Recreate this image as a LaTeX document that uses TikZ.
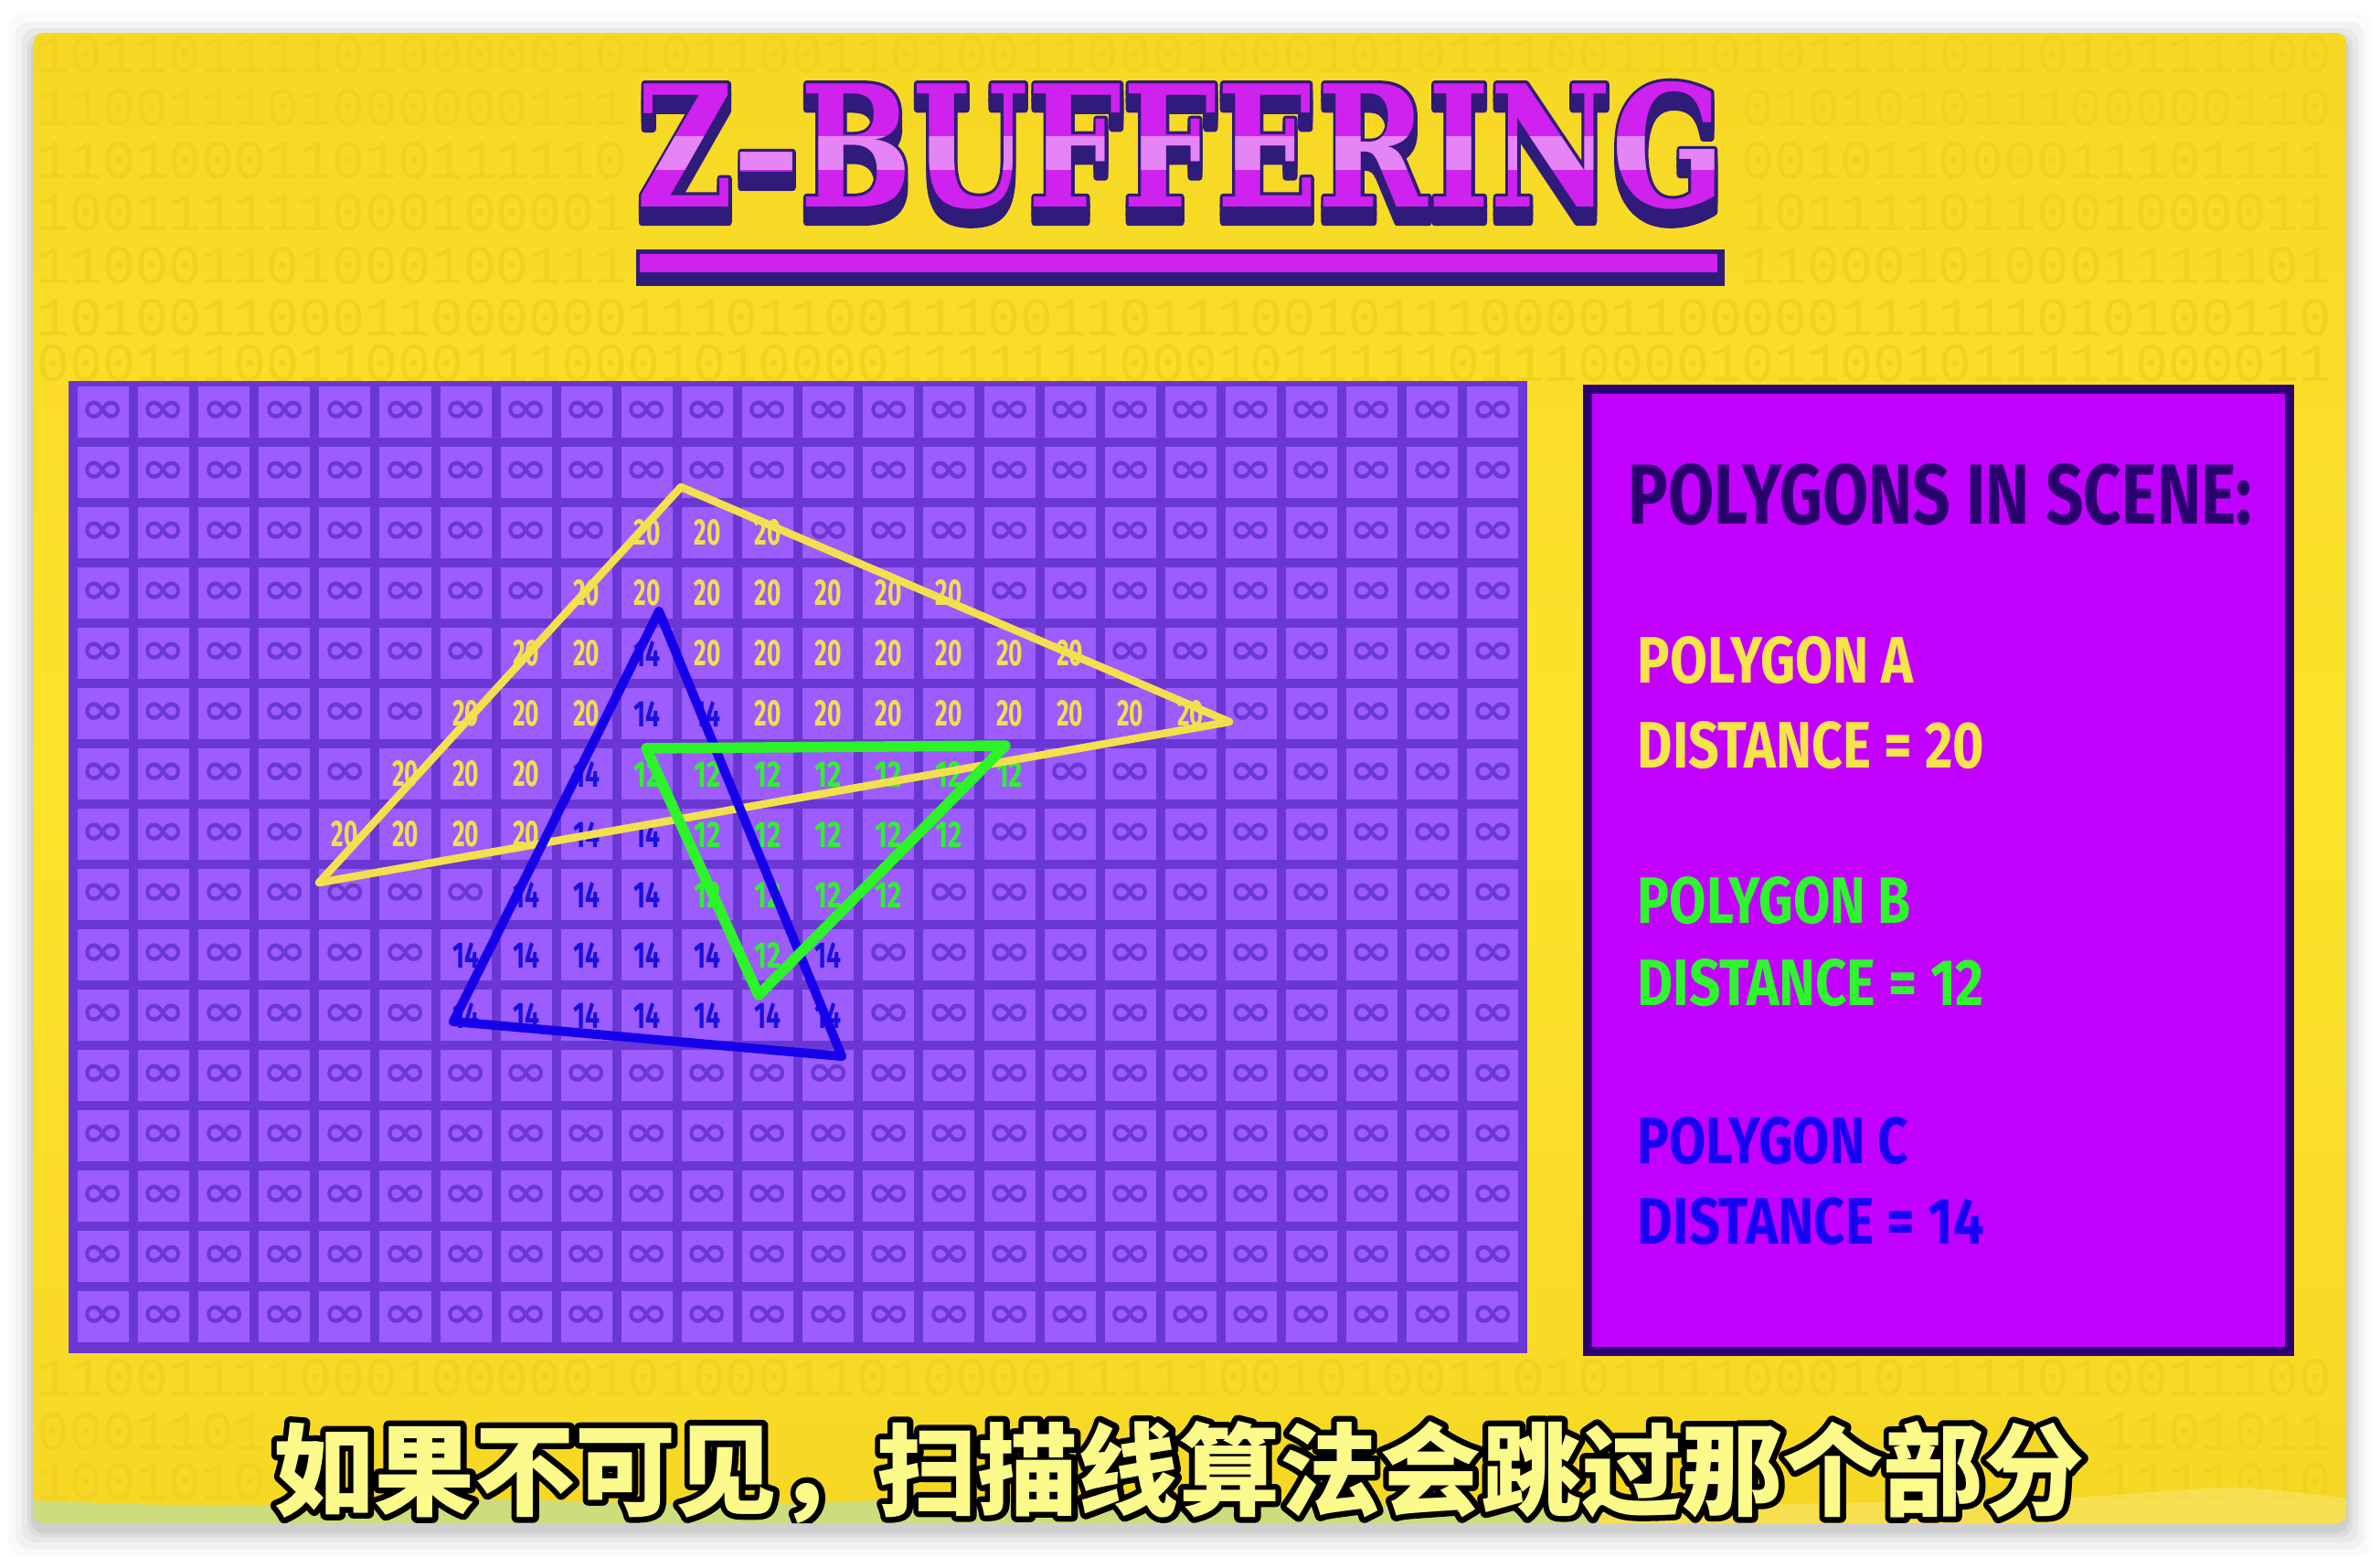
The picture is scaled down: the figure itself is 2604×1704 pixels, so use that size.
\documentclass[tikz,border=0pt]{standalone}
\usepackage{fontspec}
\usepackage{graphicx}
\usetikzlibrary{calc}
\setmainfont{Fira Sans}
\newfontfamily\titlefont{DejaVu Serif}
\newfontfamily\panelfont{Fira Sans}
\newfontfamily\symfont{DejaVu Sans}
\newfontfamily\cjkfont{Noto Sans CJK SC}
\newfontfamily\binfont{Liberation Mono}
\definecolor{cardyellow}{HTML}{FDE32A}
\definecolor{cardtop}{HTML}{F6D824}
\definecolor{bindigit}{HTML}{F1D21F}
\definecolor{gridgap}{HTML}{6B37D4}
\definecolor{cellfill}{HTML}{9C5CFE}
\definecolor{infcol}{HTML}{6A38D2}
\definecolor{rightfill}{HTML}{C200FF}
\definecolor{rightborder}{HTML}{2A0072}
\definecolor{headtxt}{HTML}{2A006E}
\definecolor{ytxt}{HTML}{F5E44A}
\definecolor{gtxt}{HTML}{2EF52E}
\definecolor{btxt}{HTML}{1A00F0}
\definecolor{ytri}{HTML}{F4E04C}
\definecolor{gtri}{HTML}{2CF428}
\definecolor{btri}{HTML}{1600EC}
\definecolor{num20}{HTML}{F2DE4E}
\definecolor{num14}{HTML}{1A10E0}
\definecolor{num12}{HTML}{30F030}
\definecolor{titlemag}{HTML}{CF22EF}
\definecolor{titledark}{HTML}{2F1B7A}
\definecolor{titlehi}{HTML}{E584F5}
\definecolor{subfill}{HTML}{FCFA8A}
\definecolor{bandgreen}{HTML}{C6DD8C}
\definecolor{bandpale}{HTML}{F8E462}
\newsavebox\infbox
\newsavebox\twentybox
\newsavebox\fourteenbox
\newsavebox\twelvebox
\AtBeginDocument{%
\sbox\infbox{\color{infcol}\scalebox{1}[0.8]{\fontsize{16.5pt}{16.5pt}\symfont\bfseries ∞}}%
\sbox\twentybox{\color{num20}\resizebox{0.29cm}{0.28cm}{\fontsize{20pt}{20pt}\panelfont\bfseries 20}}%
\sbox\fourteenbox{\color{num14}\resizebox{0.29cm}{0.28cm}{\fontsize{20pt}{20pt}\panelfont\bfseries 14}}%
\sbox\twelvebox{\color{num12}\resizebox{0.29cm}{0.28cm}{\fontsize{20pt}{20pt}\panelfont\bfseries 12}}%
}
\newcommand\cellcI{\usebox\infbox}
\newcommand\cellcA{\usebox\twentybox}
\newcommand\cellcB{\usebox\twelvebox}
\newcommand\cellcC{\usebox\fourteenbox}
% text drawn with a stroked outline (fill + stroke in the current colour)
\newcommand\strokedtext[2]{\special{pdf:literal direct 1 j 1 J #1 w 2 Tr}#2\special{pdf:literal direct 0 Tr}}
\newcommand\ztitle{\resizebox{11.9cm}{1.37cm}{\fontsize{53pt}{53pt}\titlefont\bfseries Z–BUFFERING}}
\newcommand\subline{\cjkfont\bfseries 如果不可见，扫描线算法会跳过那个部分}
\newcommand\binrow[4]{%
  \gdef\bits{}%
  \foreach \j in {1,...,#4}{\pgfmathrandominteger{\bitval}{0}{1}\xdef\bits{\bits\bitval}}%
  \node[bintext] (#1) at (#2,#3) {\bits};}
\begin{document}
\begin{tikzpicture}[x=0.01cm,y=-0.01cm,
  cellbox/.style={fill=cellfill,minimum width=0.56cm,minimum height=0.56cm,inner sep=0pt,outer sep=0pt},
  bintext/.style={anchor=west,inner sep=0pt,text=bindigit,font=\binfont\fontsize{17pt}{17pt}\selectfont},
  tri/.style={line join=round,line cap=round},
  paneltext/.style={anchor=base west,inner sep=0pt},
  titlecopy/.style={anchor=base west,inner sep=0pt},
  subtext/.style={anchor=base,inner sep=0pt,font=\fontsize{31.3pt}{31.3pt}\selectfont}
]
\useasboundingbox (0,0) rectangle (2604,1704);
\fill[white] (0,0) rectangle (2604,1704);
% card shadow
\foreach \s/\o in {28/0.02,20/0.03,13/0.04,7/0.05,3/0.06}{
  \fill[black,opacity=\o,rounded corners=4pt] (37-\s,36-\s+8) rectangle (2567+\s,1667+\s+8);
}
% card
\shade[rounded corners=3pt,top color=cardtop,bottom color=cardtop,middle color=cardyellow] (37,36) rectangle (2567,1667);
\begin{scope}
\clip[rounded corners=3pt] (37,36) rectangle (2567,1667);
% faint binary digits (only where they are not covered)
\pgfmathsetseed{7}
\binrow{bin-0}{40}{60}{70}
\foreach \k in {1,...,4}{
  \binrow{binl-\k}{40}{60+57.7*\k}{18}
  \binrow{binr-\k}{1905}{60+57.7*\k}{18}
}
\binrow{bin-5}{40}{348}{70}
\binrow{bin-6}{40}{398}{70}
\binrow{bin-25}{40}{1508}{70}
\binrow{binl-26}{40}{1567}{7}
\binrow{binr-26}{2300}{1567}{7}
\binrow{binl-27}{40}{1622}{7}
\binrow{binr-27}{2300}{1622}{7}
% bottom bands
\fill[bandgreen,opacity=0.85] (37,1670) -- plot[smooth] coordinates {(37,1642) (250,1648) (500,1640) (800,1647) (1100,1638) (1400,1646) (1750,1652)} -- (1750,1670) -- cycle;
\fill[bandpale,opacity=0.7] (1750,1670) -- plot[smooth] coordinates {(1750,1652) (2000,1645) (2250,1640) (2440,1628) (2567,1640)} -- (2567,1670) -- cycle;
% title
\node[titlecopy,text=titledark] (tshadow-a) at (696,243) {\strokedtext{2.4}{\ztitle}};
\node[titlecopy,text=titledark] (tshadow-b) at (696,235) {\strokedtext{2.4}{\ztitle}};
\node[titlecopy,text=titledark] (toutline) at (696,227) {\strokedtext{2.4}{\ztitle}};
\node[titlecopy,text=titlemag] (title) at (696,227) {\ztitle};
\begin{scope}
\clip (600,150) rectangle (2000,186);
\node[titlecopy,text=titlehi] (title-hi) at (696,227) {\ztitle};
\end{scope}
\fill[titledark] (696,273) rectangle (1887,313);
\fill[titlemag] (700,278) rectangle (1879,298);
% grid panel
\fill[gridgap] (75,417) rectangle (1671,1481);
\foreach \rowlist [count=\r from 0] in {
 {I,I,I,I,I,I,I,I,I,I,I,I,I,I,I,I,I,I,I,I,I,I,I,I},
 {I,I,I,I,I,I,I,I,I,I,I,I,I,I,I,I,I,I,I,I,I,I,I,I},
 {I,I,I,I,I,I,I,I,I,A,A,A,I,I,I,I,I,I,I,I,I,I,I,I},
 {I,I,I,I,I,I,I,I,A,A,A,A,A,A,A,I,I,I,I,I,I,I,I,I},
 {I,I,I,I,I,I,I,A,A,C,A,A,A,A,A,A,A,I,I,I,I,I,I,I},
 {I,I,I,I,I,I,A,A,A,C,C,A,A,A,A,A,A,A,A,I,I,I,I,I},
 {I,I,I,I,I,A,A,A,C,B,B,B,B,B,B,B,I,I,I,I,I,I,I,I},
 {I,I,I,I,A,A,A,A,C,C,B,B,B,B,B,I,I,I,I,I,I,I,I,I},
 {I,I,I,I,I,I,I,C,C,C,B,B,B,B,I,I,I,I,I,I,I,I,I,I},
 {I,I,I,I,I,I,C,C,C,C,C,B,C,I,I,I,I,I,I,I,I,I,I,I},
 {I,I,I,I,I,I,C,C,C,C,C,C,C,I,I,I,I,I,I,I,I,I,I,I},
 {I,I,I,I,I,I,I,I,I,I,I,I,I,I,I,I,I,I,I,I,I,I,I,I},
 {I,I,I,I,I,I,I,I,I,I,I,I,I,I,I,I,I,I,I,I,I,I,I,I},
 {I,I,I,I,I,I,I,I,I,I,I,I,I,I,I,I,I,I,I,I,I,I,I,I},
 {I,I,I,I,I,I,I,I,I,I,I,I,I,I,I,I,I,I,I,I,I,I,I,I},
 {I,I,I,I,I,I,I,I,I,I,I,I,I,I,I,I,I,I,I,I,I,I,I,I}}{
  \foreach \v [count=\c from 0] in \rowlist {
    \node[cellbox] (cell-\c-\r) at ({113+66.1*\c},{451+66*\r}) {\csname cellc\v\endcsname};
  }
}
% triangles
\coordinate (Y1) at (745,533);
\coordinate (Y2) at (1345,790);
\coordinate (Y3) at (349,966);
\coordinate (B1) at (721,669);
\coordinate (B2) at (921,1156);
\coordinate (B3) at (496,1118);
\coordinate (G1) at (707,819);
\coordinate (G2) at (1100,816);
\coordinate (G3) at (830,1089);
\draw[tri,draw=ytri,line width=0.085cm] (Y1) -- (Y2) -- (Y3) -- cycle;
\draw[tri,draw=btri,line width=0.1cm] (B1) -- (B2) -- (B3) -- cycle;
\draw[tri,draw=gtri,line width=0.115cm] (G1) -- (G2) -- (G3) -- cycle;
% right panel
\draw[fill=rightfill,draw=rightborder,line width=0.1cm] (1737,426) rectangle (2505,1479);
\node[paneltext,text=headtxt] (head) at (1781,574) {\resizebox{6.82cm}{0.66cm}{\panelfont\bfseries POLYGONS IN SCENE:}};
\node[paneltext,text=ytxt] (polyA) at (1791,748) {\resizebox{3.02cm}{0.51cm}{\panelfont\bfseries POLYGON A}};
\node[paneltext,text=ytxt] (distA) at (1791,840) {\resizebox{3.79cm}{0.51cm}{\panelfont\bfseries DISTANCE = 20}};
\node[paneltext,text=gtxt] (polyB) at (1791,1010) {\resizebox{2.99cm}{0.51cm}{\panelfont\bfseries POLYGON B}};
\node[paneltext,text=gtxt] (distB) at (1791,1100) {\resizebox{3.79cm}{0.51cm}{\panelfont\bfseries DISTANCE = 12}};
\node[paneltext,text=btxt] (polyC) at (1791,1273) {\resizebox{2.96cm}{0.51cm}{\panelfont\bfseries POLYGON C}};
\node[paneltext,text=btxt] (distC) at (1791,1361) {\resizebox{3.79cm}{0.51cm}{\panelfont\bfseries DISTANCE = 14}};
% subtitle
\node[subtext,text=black] (subtitle-outline) at (1290,1650) {\strokedtext{3.6}{\subline}};
\node[subtext,text=subfill] (subtitle) at (1290,1650) {\subline};
\end{scope}
\end{tikzpicture}
\end{document}
